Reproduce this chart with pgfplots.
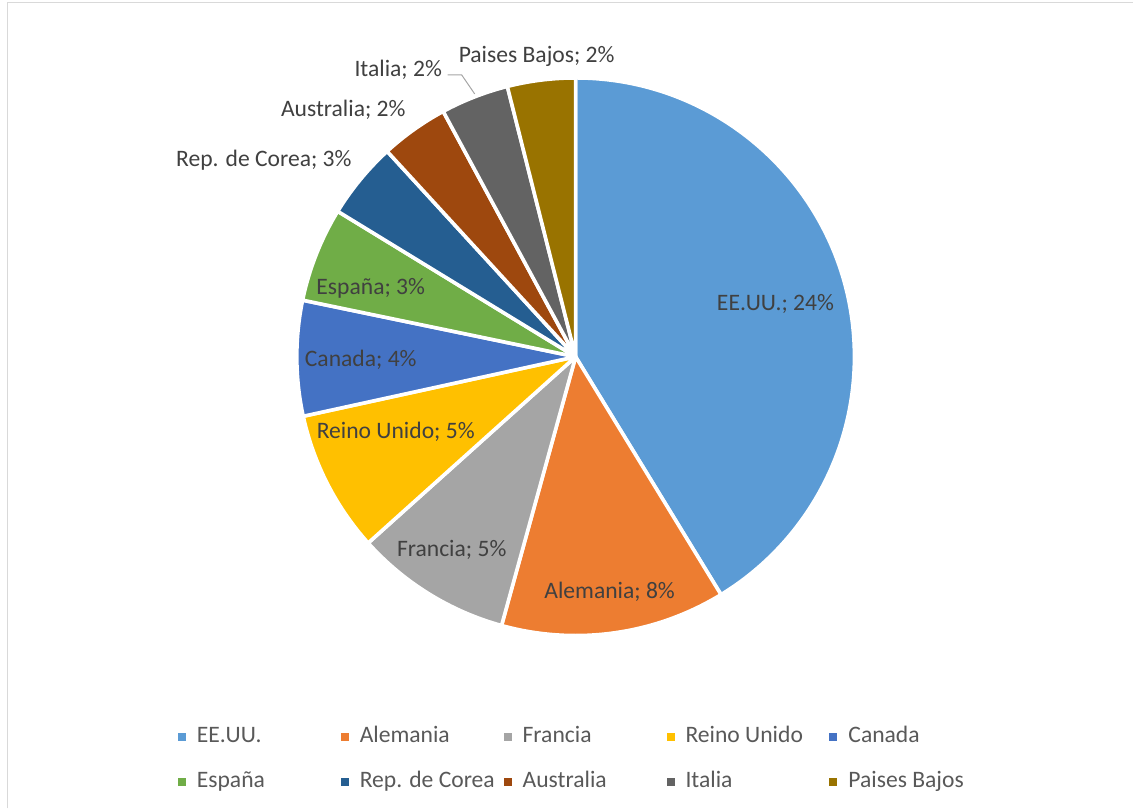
\documentclass[border=0pt]{standalone}
\usepackage{fontspec}
\setmainfont{Carlito}
\usepackage{pgfplots}
\usepackage{pgfplotstable}
\pgfplotsset{compat=1.18}

\definecolor{c0}{HTML}{5B9BD5}
\definecolor{c1}{HTML}{ED7D31}
\definecolor{c2}{HTML}{A5A5A5}
\definecolor{c3}{HTML}{FFC000}
\definecolor{c4}{HTML}{4472C4}
\definecolor{c5}{HTML}{70AD47}
\definecolor{c6}{HTML}{255E91}
\definecolor{c7}{HTML}{9E480E}
\definecolor{c8}{HTML}{636363}
\definecolor{c9}{HTML}{997300}
\definecolor{lbl}{HTML}{404040}
\definecolor{legtext}{HTML}{595959}
\definecolor{frame}{HTML}{D9D9D9}

% share of each country; lx, lb = data label centre x and baseline (pixels from top)
\pgfplotstableread[col sep=comma]{
name,value,lx,lb
EE.UU.,24.1,776,311
Alemania,7.6,610,599
Francia,5.3,452,557
Reino Unido,4.8,396,439
Canada,3.9,361,367
España,3.2,371,295
Rep. de Corea,2.6,264,167
Australia,2.3,343.5,117
Italia,2.3,398.5,77
Paises Bajos,2.3,537,63
}\data

\pgfplotsset{sq legend/.style={legend image code/.code={\fill[##1, draw=none] (0pt,-2pt) rectangle (4pt,2pt);}}}

% total and cumulative angles (clockwise from 12 o'clock)
\def\total{0}
\pgfplotsforeachungrouped \i in {0,...,9}{%
  \pgfplotstablegetelem{\i}{value}\of\data
  \pgfmathsetmacro\total{\total+\pgfplotsretval}%
}
\def\cum{0}
\pgfplotsforeachungrouped \i in {0,...,9}{%
  \pgfplotstablegetelem{\i}{value}\of\data
  \let\v\pgfplotsretval
  \pgfmathsetmacro\sa{90-360*(\cum/\total)}%
  \pgfmathsetmacro\cum{\cum+\v}%
  \pgfmathsetmacro\ea{90-360*(\cum/\total)}%
  \pgfmathtruncatemacro\pc{round(\v)}%
  \expandafter\let\csname sa\i\endcsname\sa
  \expandafter\let\csname ea\i\endcsname\ea
  \expandafter\let\csname pc\i\endcsname\pc
  \pgfplotstablegetelem{\i}{name}\of\data
  \expandafter\let\csname nm\i\endcsname\pgfplotsretval
  \pgfplotstablegetelem{\i}{lx}\of\data
  \expandafter\let\csname lx\i\endcsname\pgfplotsretval
  \pgfplotstablegetelem{\i}{lb}\of\data
  \pgfmathsetmacro\tmp{809-\pgfplotsretval}%
  \expandafter\let\csname ly\i\endcsname\tmp
}

\begin{document}
\begin{tikzpicture}[font=\fontsize{11.8}{14}\selectfont]
\begin{axis}[
  x=0.5pt, y=0.5pt,
  xmin=0, xmax=1134, ymin=0, ymax=809,
  hide axis, clip=false,
  legend columns=5,
  legend cell align=left,
  legend style={draw=none, fill=none, inner sep=0pt, outer sep=0pt,
    at={(0.15697,0.1026)}, anchor=north west, row sep=11pt,
    nodes={inner sep=0pt, text height=8.5pt, text depth=3pt, text=legtext},
    /tikz/every odd column/.append style={column sep=5.5pt},
    /tikz/every even column/.append style={column sep=0pt}},
]
  \path (axis cs:0,0) rectangle (axis cs:1134,809);
  \draw[frame, line width=0.75pt] (axis cs:7.5,0) -- (axis cs:7.5,806.5) -- (axis cs:1134,806.5);

  \pgfplotsinvokeforeach{0,...,9}{
    \filldraw[fill=c#1, draw=white, line width=1.8pt, line join=round]
      (axis cs:576,452) -- ++(\csname sa#1\endcsname:139.5pt)
      arc[start angle=\csname sa#1\endcsname, end angle=\csname ea#1\endcsname, radius=139.5pt] -- cycle;
  }
  \draw[color=c2, line width=0.5pt] (axis cs:448,734) -- (axis cs:462,734) -- (axis cs:475,715);
  \pgfplotsinvokeforeach{0,...,9}{
    \node[anchor=base, text=lbl, inner sep=0pt]
      at (axis cs:\csname lx#1\endcsname,\csname ly#1\endcsname)
      {\csname nm#1\endcsname; \csname pc#1\endcsname\%};
    \addlegendimage{sq legend, fill=c#1}
    \addlegendentry{\makebox[72pt][l]{\csname nm#1\endcsname}}
  }
\end{axis}
\end{tikzpicture}
\end{document}
